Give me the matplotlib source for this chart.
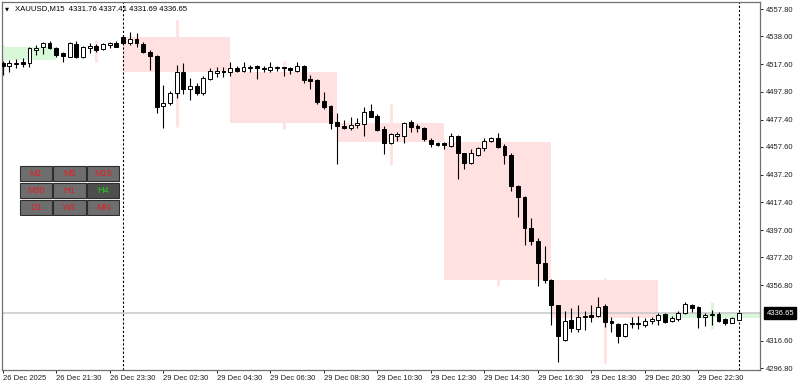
import matplotlib
matplotlib.use('Agg')
import matplotlib.pyplot as plt
from matplotlib.patches import Rectangle

# 字体设置
plt.rcParams['font.family'] = ['Liberation Sans', 'DejaVu Sans']
plt.rcParams['font.size'] = 5.5
plt.rcParams['lines.scale_dashes'] = False

symbol = 'XAUUSD,M15'

# M15 K线数据 (26 Dec 19:30 起)
opens = [4518.8, 4516.4, 4517.8, 4519.3, 4518.8, 4528.0, 4530.4, 4533.3, 4529.7, 4525.6,
         4523.1, 4532.4, 4523.1, 4529.7, 4530.9, 4528.7, 4531.6, 4532.8, 4537.2, 4532.8,
         4535.8, 4532.4, 4526.8, 4523.6, 4487.3, 4489.2, 4497.0, 4512.2, 4499.9, 4501.8,
         4496.5, 4506.9, 4511.5, 4512.7, 4512.2, 4515.1, 4512.7, 4515.1, 4516.4, 4515.1,
         4513.5, 4515.2, 4515.7, 4515.2, 4513.0, 4516.4, 4506.9, 4506.2, 4490.9, 4487.3,
         4475.6, 4473.0, 4471.1, 4473.2, 4474.2, 4483.9, 4480.0, 4470.3, 4460.6, 4465.5,
         4465.5, 4475.9, 4472.7, 4471.1, 4462.6, 4460.6, 4460.6, 4458.2, 4465.7, 4452.9,
         4446.1, 4451.7, 4456.5, 4462.0, 4463.8, 4458.2, 4451.6, 4429.1, 4421.3, 4398.4,
         4389.3, 4373.3, 4360.8, 4342.6, 4317.2, 4331.7, 4325.0, 4334.1, 4335.3, 4334.6,
         4341.9, 4331.2, 4328.8, 4320.1, 4328.8, 4329.7, 4328.1, 4331.2, 4331.7, 4336.0,
         4331.2, 4332.2, 4337.0, 4342.6, 4340.9, 4334.1, 4335.3, 4336.0, 4332.2, 4329.7,
         4331.76]
highs = [4520.0, 4520.7, 4521.2, 4521.9, 4530.4, 4531.6, 4534.1, 4534.3, 4530.4, 4526.8,
         4534.1, 4534.8, 4531.1, 4533.3, 4532.1, 4533.3, 4534.1, 4534.8, 4538.9, 4541.3,
         4540.1, 4534.1, 4528.0, 4524.4, 4502.6, 4498.4, 4517.1, 4518.3, 4507.4, 4503.8,
         4509.1, 4514.7, 4515.4, 4515.9, 4519.5, 4516.6, 4519.5, 4517.1, 4517.1, 4516.4,
         4519.5, 4516.6, 4515.9, 4515.9, 4519.0, 4517.1, 4509.8, 4506.9, 4497.7, 4488.0,
         4482.0, 4477.1, 4479.5, 4478.3, 4486.3, 4488.5, 4481.5, 4472.7, 4467.9, 4468.6,
         4475.9, 4477.1, 4474.2, 4471.8, 4463.8, 4461.3, 4461.3, 4467.9, 4466.2, 4453.3,
         4455.8, 4457.7, 4463.8, 4465.0, 4467.4, 4459.6, 4453.3, 4429.8, 4421.8, 4405.6,
         4391.3, 4385.5, 4361.3, 4342.6, 4338.5, 4340.2, 4342.6, 4338.5, 4342.6, 4348.2,
         4343.3, 4334.1, 4329.7, 4329.7, 4334.1, 4334.6, 4332.9, 4334.1, 4337.0, 4337.0,
         4334.6, 4338.5, 4345.0, 4343.3, 4341.9, 4336.6, 4338.9, 4337.7, 4332.9, 4333.6,
         4337.41]
lows = [4509.8, 4512.2, 4514.7, 4515.9, 4515.9, 4524.3, 4525.1, 4528.5, 4522.7, 4519.5,
        4522.7, 4521.9, 4521.9, 4525.6, 4526.8, 4528.0, 4529.2, 4529.9, 4532.4, 4531.6,
        4530.4, 4525.6, 4513.5, 4482.4, 4471.0, 4488.0, 4492.9, 4496.0, 4491.6, 4495.3,
        4495.3, 4506.2, 4508.1, 4508.1, 4509.1, 4512.2, 4512.2, 4512.2, 4506.7, 4512.2,
        4512.2, 4513.0, 4509.1, 4510.6, 4512.2, 4504.2, 4499.4, 4488.5, 4484.9, 4470.3,
        4444.9, 4470.6, 4469.8, 4471.0, 4465.5, 4479.0, 4469.1, 4452.2, 4459.9, 4462.0,
        4460.2, 4468.6, 4468.6, 4462.0, 4457.2, 4458.2, 4455.8, 4457.7, 4434.0, 4441.3,
        4445.1, 4450.9, 4454.8, 4461.1, 4456.5, 4444.9, 4425.7, 4406.4, 4386.2, 4386.2,
        4356.4, 4358.4, 4328.1, 4301.4, 4316.7, 4323.2, 4323.2, 4324.4, 4330.5, 4334.1,
        4326.4, 4323.2, 4314.8, 4319.1, 4325.7, 4325.0, 4326.4, 4328.8, 4328.1, 4329.7,
        4330.5, 4331.2, 4336.0, 4337.7, 4325.7, 4327.3, 4328.1, 4330.5, 4328.1, 4329.3,
        4331.69]
closes = [4516.4, 4518.8, 4518.8, 4517.8, 4529.2, 4529.7, 4533.3, 4529.2, 4524.3, 4523.6,
          4533.3, 4523.1, 4530.4, 4530.9, 4528.0, 4532.1, 4532.8, 4530.4, 4532.8, 4535.8,
          4532.8, 4526.3, 4523.6, 4486.8, 4489.2, 4497.0, 4512.2, 4499.4, 4501.8, 4496.5,
          4507.4, 4513.0, 4512.7, 4511.8, 4514.7, 4512.7, 4515.9, 4515.6, 4514.7, 4513.9,
          4515.9, 4515.7, 4515.2, 4513.5, 4516.4, 4506.2, 4505.7, 4490.4, 4486.8, 4474.7,
          4472.7, 4471.1, 4473.5, 4475.1, 4483.1, 4479.5, 4469.8, 4460.6, 4466.9, 4466.9,
          4475.1, 4471.8, 4471.1, 4463.1, 4459.6, 4458.9, 4458.9, 4465.5, 4452.9, 4446.1,
          4452.9, 4456.5, 4462.0, 4463.8, 4457.7, 4451.6, 4429.1, 4421.3, 4398.4, 4389.3,
          4373.3, 4360.8, 4342.6, 4320.1, 4331.2, 4325.6, 4334.1, 4334.6, 4334.1, 4341.4,
          4330.5, 4329.7, 4320.1, 4328.8, 4329.7, 4328.8, 4331.2, 4332.2, 4335.3, 4330.5,
          4332.9, 4337.0, 4343.3, 4340.2, 4334.1, 4335.3, 4336.0, 4331.2, 4329.7, 4332.9,
          4336.65]

# 时间轴标签 (每8根K线一个)
time_labels = ['26 Dec 2025', '26 Dec 21:30', '26 Dec 23:30', '29 Dec 02:30', '29 Dec 04:30',
               '29 Dec 06:30', '29 Dec 08:30', '29 Dec 10:30', '29 Dec 12:30', '29 Dec 14:30',
               '29 Dec 16:30', '29 Dec 18:30', '29 Dec 20:30', '29 Dec 22:30']
price_ticks = [4557.80, 4538.00, 4517.60, 4497.80, 4477.40, 4457.60, 4437.20,
               4417.40, 4397.00, 4377.20, 4356.80, 4316.60, 4296.80]
# 日分隔线所在K线
day_separators = [18, 110]

# H4 叠加K线
h4_start = [-8, 6, 18, 34, 50, 66, 82, 98]
h4_open = [4520.7, 4529.4, 4537.4, 4512.0, 4475.1, 4461.1, 4360.8, 4333.2]
h4_high = [4532.0, 4535.3, 4549.8, 4520.0, 4488.7, 4462.6, 4362.2, 4344.8]
h4_low = [4509.0, 4519.3, 4472.0, 4470.6, 4444.4, 4356.4, 4300.4, 4325.2]
h4_close = [4530.2, 4529.4, 4512.0, 4475.1, 4461.1, 4360.8, 4333.2, 4336.65]

tf_buttons = [['M1', 'M5', 'M15'], ['M30', 'H1', 'H4'], ['D1', 'W1', 'MN']]
active_tf = 'H4'

W, H = 800, 388
BAR_PX = 6.69
FIRST_PX = 2.7


def px(x0, y0, x1, y1):
    # 像素矩形 -> figure 坐标
    return [x0 / W, 1 - y1 / H, (x1 - x0) / W, (y1 - y0) / H]


fig = plt.figure(figsize=(W / 100, H / 100), dpi=100)
fig.patch.set_facecolor('white')

ax = fig.add_axes(px(2, 2, 760, 370))
ax.set_xlim((2 - FIRST_PX) / BAR_PX, (760 - FIRST_PX) / BAR_PX)
ax.set_ylim(4295.35, 4562.9)

# H4 方框
for s, o, hi, lo, c in zip(h4_start, h4_open, h4_high, h4_low, h4_close):
    col = '#d9f7d9' if c > o else '#ffe1e1'
    ax.add_patch(Rectangle((s, min(o, c)), 16, abs(c - o), facecolor=col,
                           edgecolor='none', zorder=0.5))
    ax.vlines(s + 8, lo, hi, color=col, lw=2.0, zorder=0.6)

# 当前价格线
ax.axhline(closes[-1], color='#c8c8c8', lw=1.1, zorder=1)

# 日分隔线
for d in day_separators:
    ax.axvline(d, color='black', lw=0.8, ls=(0, (1.6, 1.4)), zorder=1.5)

# K线
xs = list(range(len(opens)))
ax.vlines(xs, lows, highs, color='black', lw=0.8, zorder=2)
for x, o, c in zip(xs, opens, closes):
    bottom = min(o, c)
    height = max(abs(c - o), 0.5)
    fc = 'white' if c >= o else 'black'
    ax.add_patch(Rectangle((x - 0.29, bottom), 0.58, height, facecolor=fc,
                           edgecolor='black', lw=0.7, zorder=3))

# 坐标轴
for sp in ax.spines.values():
    sp.set_color('#707070')
    sp.set_linewidth(0.9)
ax.yaxis.tick_right()
ax.set_yticks(price_ticks)
ax.set_yticklabels(['%.2f' % v for v in price_ticks])
ax.set_xticks(range(0, 8 * len(time_labels), 8))
ax.set_xticklabels(time_labels, ha='left')
ax.tick_params(axis='both', direction='out', length=2.2, width=0.7, colors='#202020',
               labelsize=5.5, pad=2)
ax.tick_params(axis='x', pad=1.5)

# 当前价格标签
ax.text(1.0085, closes[-1], '%.2f' % closes[-1], transform=ax.get_yaxis_transform(),
        ha='left', va='center', color='white', fontsize=5.5, clip_on=False,
        bbox=dict(boxstyle='square,pad=0.3', fc='black', ec='black'))

# 标题
title = '%s  %.2f %.2f %.2f %.2f' % (symbol, opens[-1], highs[-1], lows[-1], closes[-1])
fig.text(5 / W, 1 - 8.5 / H, '▼', family='DejaVu Sans', fontsize=3.8, va='center')
fig.text(15 / W, 1 - 8.5 / H, title, va='center', color='black', fontsize=5.6)

# 周期按钮
bx = fig.add_axes(px(19, 165, 120, 216))
bx.set_xlim(0, 3)
bx.set_ylim(3, 0)
bx.axis('off')
for r, row in enumerate(tf_buttons):
    for c, name in enumerate(row):
        active = name == active_tf
        bx.add_patch(Rectangle((c + 0.02, r + 0.04), 0.96, 0.92,
                               facecolor='#4e4e4e' if active else '#6e6e6e',
                               edgecolor='#2e2e2e', lw=0.8))
        bx.text(c + 0.5, r + 0.52, name, ha='center', va='center', fontsize=6.6,
                color='#1ed01e' if active else '#e0202a')

fig.savefig('out.png', dpi=100, facecolor='white')
